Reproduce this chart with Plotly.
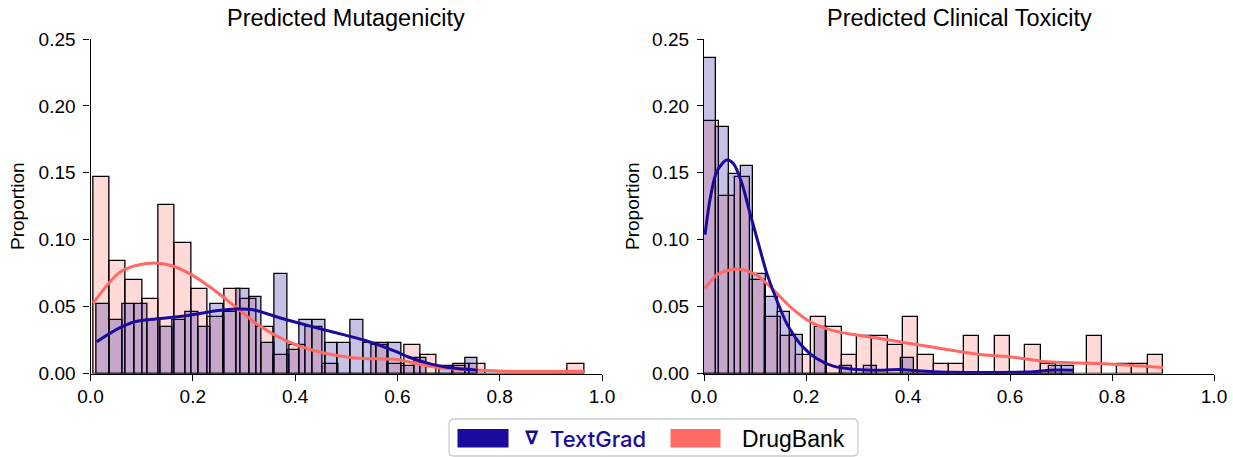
import numpy as np
import plotly.graph_objects as go

# ---------------- data ----------------
# bin counts (proportion = count / total), 30 bins spanning each range
mut_drugbank_counts = [21, 12, 10, 8, 18, 14, 9, 6, 9, 8, 5, 2, 3, 5, 1, 0, 0, 3, 1, 3, 2, 0, 1, 1, 0, 0, 0, 0, 0, 1]
mut_drugbank_range = [0.005, 0.965]
mut_textgrad_counts = [9, 7, 9, 9, 7, 6, 7, 8, 6, 9, 8, 11, 10, 4, 13, 3, 7, 7, 4, 4, 7, 4, 4, 4, 1, 2, 0, 1, 1, 2]
mut_textgrad_range = [0.012, 0.757]

tox_drugbank_counts = [27, 19, 21, 10, 6, 4, 2, 6, 5, 2, 4, 4, 3, 6, 2, 1, 1, 4, 0, 4, 0, 3, 1, 0, 0, 4, 0, 1, 1, 2]
tox_drugbank_range = [0.0, 0.900]
tox_textgrad_counts = [41, 32, 26, 27, 13, 10, 8, 5, 0, 6, 0, 1, 0, 1, 0, 0, 2, 0, 0, 0, 0, 0, 0, 0, 0, 0, 0, 0, 1, 1]
tox_textgrad_range = [0.0, 0.7255]

# KDE curves
mut_textgrad_kde_x = [0.012, 0.055, 0.087, 0.12, 0.185, 0.25, 0.283, 0.315, 0.38, 0.446, 0.498, 0.534, 0.599, 0.62, 0.664, 0.70, 0.757]
mut_textgrad_kde_y = [0.0237, 0.0337, 0.0387, 0.0405, 0.043, 0.047, 0.0482, 0.0478, 0.0405, 0.0337, 0.0287, 0.025, 0.0162, 0.0125, 0.0072, 0.0045, 0.0025]
mut_drugbank_kde_x = [0.005, 0.055, 0.087, 0.126, 0.159, 0.198, 0.237, 0.283, 0.328, 0.38, 0.446, 0.498, 0.534, 0.599, 0.651, 0.697, 0.762, 0.827, 0.892, 0.965]
mut_drugbank_kde_y = [0.0525, 0.075, 0.0805, 0.0825, 0.0805, 0.0737, 0.0637, 0.05, 0.0362, 0.025, 0.0162, 0.0125, 0.0112, 0.0105, 0.0062, 0.0037, 0.0025, 0.0015, 0.0015, 0.0017]
tox_textgrad_kde_x = [0.002, 0.0118, 0.025, 0.0444, 0.0575, 0.074, 0.090, 0.1065, 0.123, 0.1425, 0.162, 0.188, 0.221, 0.2535, 0.299, 0.352, 0.384, 0.417, 0.45, 0.515, 0.58, 0.6457, 0.678, 0.7255]
tox_textgrad_kde_y = [0.1037, 0.130, 0.151, 0.1595, 0.157, 0.1425, 0.12, 0.0975, 0.075, 0.055, 0.0375, 0.0225, 0.0112, 0.0055, 0.003, 0.0025, 0.003, 0.002, 0.0013, 0.0008, 0.0008, 0.0013, 0.0025, 0.0025]
tox_drugbank_kde_x = [0.002, 0.025, 0.0575, 0.0765, 0.103, 0.136, 0.1686, 0.208, 0.2535, 0.2994, 0.345, 0.384, 0.41, 0.476, 0.515, 0.541, 0.6, 0.672, 0.737, 0.8026, 0.9006]
tox_drugbank_kde_y = [0.0637, 0.0737, 0.078, 0.0775, 0.0737, 0.0625, 0.05, 0.0387, 0.032, 0.0287, 0.0262, 0.0237, 0.022, 0.018, 0.0155, 0.0142, 0.0125, 0.0087, 0.0078, 0.007, 0.0045]

titles = ["Predicted Mutagenicity", "Predicted Clinical Toxicity"]
series_names = ["TextGrad", "DrugBank"]
x_ticks = [0.0, 0.2, 0.4, 0.6, 0.8, 1.0]
y_ticks = [0.0, 0.05, 0.10, 0.15, 0.20, 0.25]

# ---------------- styling ----------------
BLUE = "#1b0b9c"
PINK = "#ff6a64"
BLUE_FILL = "rgba(27,11,156,0.25)"
PINK_FILL = "rgba(255,106,100,0.25)"
W, H = 1233, 457
FONT = "Liberation Sans, Arial, Helvetica, sans-serif"


def px(x):
    """window pixel x -> paper coordinate"""
    return x / W


def py(y):
    """window pixel y -> paper coordinate"""
    return 1 - y / H


def bars(counts, rng, fill, xaxis):
    counts = np.asarray(counts, dtype=float)
    edges = np.linspace(rng[0], rng[1], len(counts) + 1)
    width = edges[1] - edges[0]
    centers = edges[:-1] + width / 2
    return go.Bar(
        x=centers, y=counts / counts.sum(), width=width,
        marker=dict(color=fill, line=dict(color="black", width=1.3)),
        xaxis=xaxis, yaxis="y" if xaxis == "x" else "y2",
        showlegend=False, hoverinfo="skip",
    )


def kde(xs, ys, color, xaxis):
    return go.Scatter(
        x=xs, y=ys, mode="lines", line=dict(color=color, width=3, shape="spline", smoothing=0.8),
        xaxis=xaxis, yaxis="y" if xaxis == "x" else "y2", showlegend=False, hoverinfo="skip",
    )


fig = go.Figure()
fig.add_trace(bars(mut_drugbank_counts, mut_drugbank_range, PINK_FILL, "x"))
fig.add_trace(bars(mut_textgrad_counts, mut_textgrad_range, BLUE_FILL, "x"))
fig.add_trace(kde(mut_drugbank_kde_x, mut_drugbank_kde_y, PINK, "x"))
fig.add_trace(kde(mut_textgrad_kde_x, mut_textgrad_kde_y, BLUE, "x"))
fig.add_trace(bars(tox_drugbank_counts, tox_drugbank_range, PINK_FILL, "x2"))
fig.add_trace(bars(tox_textgrad_counts, tox_textgrad_range, BLUE_FILL, "x2"))
fig.add_trace(kde(tox_drugbank_kde_x, tox_drugbank_kde_y, PINK, "x2"))
fig.add_trace(kde(tox_textgrad_kde_x, tox_textgrad_kde_y, BLUE, "x2"))

ydom = [py(373.5), py(39)]
axis_common = dict(
    showline=True, linecolor="black", linewidth=1.3, ticks="outside", ticklen=6,
    tickwidth=1.3, tickcolor="black", showgrid=False, zeroline=False,
    tickfont=dict(family=FONT, size=19, color="black"), automargin=False,
)
fig.update_layout(
    width=W, height=H, margin=dict(l=0, r=0, t=0, b=0),
    paper_bgcolor="white", plot_bgcolor="white", barmode="overlay", bargap=0,
    xaxis=dict(domain=[px(90.5), px(602)], range=[0, 1], tickvals=x_ticks,
               ticktext=[f"{v:.1f}" for v in x_ticks], anchor="y", **axis_common),
    yaxis=dict(domain=ydom, range=[0, 0.25], tickvals=y_ticks,
               ticktext=[f"{v:.2f}" for v in y_ticks], anchor="x", ticklabelstandoff=4, **axis_common),
    xaxis2=dict(domain=[px(704), px(1214)], range=[0, 1], tickvals=x_ticks,
                ticktext=[f"{v:.1f}" for v in x_ticks], anchor="y2", **axis_common),
    yaxis2=dict(domain=ydom, range=[0, 0.25], tickvals=y_ticks,
                ticktext=[f"{v:.2f}" for v in y_ticks], anchor="x2", ticklabelstandoff=4, **axis_common),
)

ann = []
for cx, t in zip([346, 959], titles):
    ann.append(dict(x=px(cx), y=py(18), xref="paper", yref="paper", text=t, showarrow=False,
                    font=dict(family=FONT, size=23.5, color="black"), xanchor="center", yanchor="middle"))
for lx in [17, 632]:
    ann.append(dict(x=px(lx), y=py(206), xref="paper", yref="paper", text="Proportion", showarrow=False,
                    textangle=-90, font=dict(family=FONT, size=19, color="black"),
                    xanchor="center", yanchor="middle"))

# legend (built manually to mimic the wide swatches)
x0, x1, y0, y1, r = 449, 858, 419, 456, 5
path = (f"M {px(x0 + r)} {py(y0)} L {px(x1 - r)} {py(y0)} Q {px(x1)} {py(y0)} {px(x1)} {py(y0 + r)} "
        f"L {px(x1)} {py(y1 - r)} Q {px(x1)} {py(y1)} {px(x1 - r)} {py(y1)} "
        f"L {px(x0 + r)} {py(y1)} Q {px(x0)} {py(y1)} {px(x0)} {py(y1 - r)} "
        f"L {px(x0)} {py(y0 + r)} Q {px(x0)} {py(y0)} {px(x0 + r)} {py(y0)} Z")
shapes = [
    dict(type="path", path=path, xref="paper", yref="paper", line=dict(color="#cccccc", width=1.3),
         fillcolor="white", layer="above"),
    dict(type="rect", xref="paper", yref="paper", x0=px(457.5), x1=px(508.5), y0=py(429), y1=py(447.5),
         fillcolor=BLUE, line=dict(width=0), layer="above"),
    dict(type="rect", xref="paper", yref="paper", x0=px(670.5), x1=px(720.5), y0=py(429), y1=py(447.5),
         fillcolor=PINK, line=dict(width=0), layer="above"),
]
ann.append(dict(x=px(532), y=py(437), xref="paper", yref="paper", text="<b>∇</b>", showarrow=False,
                font=dict(family="DejaVu Sans", size=19, color=BLUE), xanchor="center", yanchor="middle"))
ann.append(dict(x=px(548), y=py(438.5), xref="paper", yref="paper", text=series_names[0], showarrow=False,
                font=dict(family="Inter, sans-serif", size=22, color=BLUE, weight=500),
                xanchor="left", yanchor="middle"))
ann.append(dict(x=px(740), y=py(438.5), xref="paper", yref="paper", text=series_names[1], showarrow=False,
                font=dict(family=FONT, size=23, color="black"), xanchor="left", yanchor="middle"))

fig.update_layout(annotations=ann, shapes=shapes)
fig.write_html("out.html", config={"displayModeBar": False},
               post_script="document.body.style.margin='0px';document.body.style.overflow='hidden';")
